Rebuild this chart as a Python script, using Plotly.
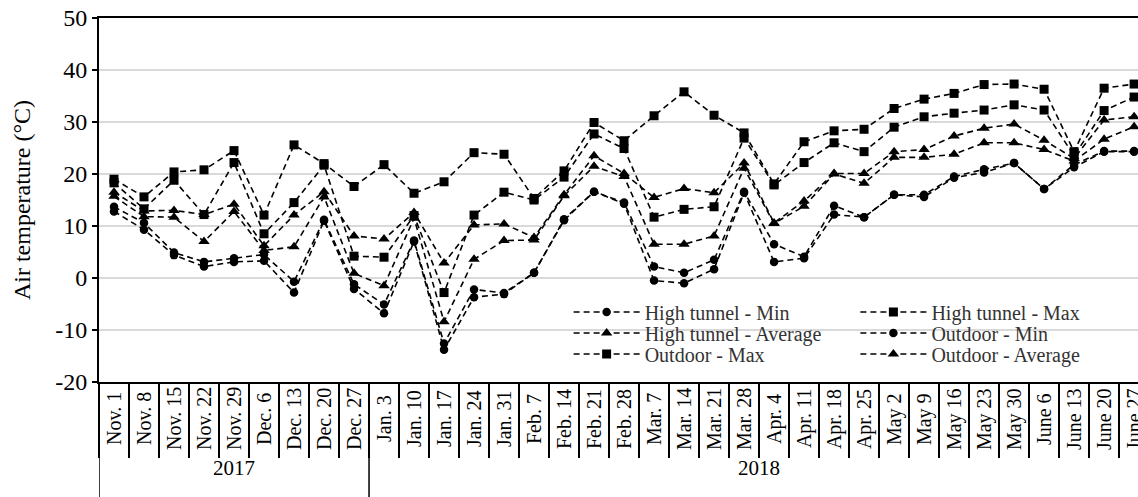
import plotly.graph_objects as go

categories = ["Nov. 1", "Nov. 8", "Nov. 15", "Nov. 22", "Nov. 29", "Dec. 6", "Dec. 13", "Dec. 20", "Dec. 27",
              "Jan. 3", "Jan. 10", "Jan. 17", "Jan. 24", "Jan. 31", "Feb. 7", "Feb. 14", "Feb. 21", "Feb. 28",
              "Mar. 7", "Mar. 14", "Mar. 21", "Mar. 28", "Apr. 4", "Apr. 11", "Apr. 18", "Apr. 25",
              "May 2", "May 9", "May 16", "May 23", "May 30", "June 6", "June 13", "June 20", "June 27"]
years = ["2017", "2018"]
year_counts = [9, 26]
y_ticks = [-20, -10, 0, 10, 20, 30, 40, 50]
y_ticktext = ["-20", "-10", "0", "10", "20", "30", "40", "50"]

ht_max = [19.0, 15.6, 20.4, 20.8, 24.5, 12.1, 25.6, 22.0, 17.6, 21.8, 16.3, 18.5, 24.1, 23.8, 15.3, 20.6, 29.9, 26.4,
          31.2, 35.8, 31.3, 27.9, 18.1, 26.2, 28.3, 28.6, 32.6, 34.4, 35.5, 37.2, 37.3, 36.3, 24.3, 36.5, 37.3]
out_max = [18.3, 13.3, 18.8, 12.2, 22.2, 8.5, 14.5, 21.7, 4.2, 4.0, 12.0, -2.8, 12.1, 16.5, 15.0, 19.4, 27.7, 24.9,
           11.7, 13.2, 13.7, 26.9, 17.9, 22.2, 26.0, 24.3, 29.0, 31.0, 31.7, 32.3, 33.3, 32.3, 23.5, 32.2, 34.8]
ht_avg = [16.5, 12.9, 13.0, 12.2, 14.2, 6.2, 12.1, 16.6, 8.1, 7.5, 12.6, 2.9, 10.2, 10.4, 7.8, 16.0, 23.5, 20.1,
          15.5, 17.2, 16.4, 22.1, 10.6, 14.8, 20.1, 20.1, 24.3, 24.7, 27.3, 28.8, 29.6, 26.5, 23.0, 30.4, 31.0]
out_avg = [15.7, 11.8, 11.7, 7.0, 12.8, 5.3, 6.0, 15.6, 0.9, -1.5, 11.5, -8.4, 3.6, 7.2, 7.3, 15.8, 21.5, 19.5,
           6.5, 6.5, 8.1, 21.1, 10.5, 13.8, 20.0, 18.2, 23.2, 23.2, 23.8, 26.0, 26.0, 24.7, 22.5, 26.7, 29.1]
ht_min = [13.7, 10.6, 4.9, 3.1, 3.8, 4.5, -0.7, 11.2, -1.2, -5.1, 7.2, -12.6, -2.2, -2.9, 1.0, 11.3, 16.6, 14.5,
          2.2, 1.0, 3.5, 16.6, 6.5, 4.1, 13.9, 11.7, 16.0, 16.0, 19.5, 20.9, 22.1, 17.1, 21.8, 24.4, 24.4]
out_min = [12.8, 9.3, 4.4, 2.2, 3.1, 3.3, -2.8, 11.0, -2.1, -6.8, 7.0, -13.8, -3.7, -3.1, 1.0, 11.1, 16.6, 14.3,
           -0.5, -1.0, 1.7, 16.4, 3.1, 3.8, 12.2, 11.7, 16.0, 15.6, 19.3, 20.3, 22.1, 17.1, 21.3, 24.3, 24.3]

FONT = "Liberation Serif"
DASH = "6px,4px"

series = [
    ("High tunnel - Min", ht_min, "circle", 8.5, "legend"),
    ("High tunnel - Max", ht_max, "square", 9, "legend2"),
    ("High tunnel - Average", ht_avg, "triangle-up", 10, "legend3"),
    ("Outdoor - Min", out_min, "circle", 8.5, "legend4"),
    ("Outdoor - Max", out_max, "square", 9, "legend5"),
    ("Outdoor - Average", out_avg, "triangle-up", 10, "legend6"),
]

fig = go.Figure()
for name, vals, sym, size, lg in series:
    fig.add_trace(go.Scatter(
        x=list(range(len(categories))), y=vals, name=name, mode="lines+markers",
        line=dict(color="black", width=1.6, dash=DASH),
        marker=dict(symbol=sym, size=size, color="black"),
        legend=lg, cliponaxis=True,
    ))

H_PLOT = 364.0
def py(p):
    return (382 - p) / H_PLOT

col_x = [0.452, 0.728]
row_y = [py(312), py(333), py(354)]
legend_layout = {}
names = ["legend", "legend2", "legend3", "legend4", "legend5", "legend6"]
for k, lg in enumerate(names):
    r, c = divmod(k, 2)
    legend_layout[lg] = dict(
        x=col_x[c], y=row_y[r], xanchor="left", yanchor="middle",
        bgcolor="rgba(0,0,0,0)", borderwidth=0, itemwidth=66,
        font=dict(family=FONT, size=20, color="#333333"),
        itemsizing="trace",
    )

annotations = []
for i, c in enumerate(categories):
    annotations.append(dict(
        x=i, y=py(419), xref="x", yref="paper", text=c, textangle=-90,
        showarrow=False, xanchor="center", yanchor="middle",
        font=dict(family=FONT, size=20, color="black"),
    ))

shapes = []
start = 0
for yr, n in zip(years, year_counts):
    annotations.append(dict(
        x=start + (n - 1) / 2, y=py(468), xref="x", yref="paper", text=yr,
        showarrow=False, xanchor="center", yanchor="middle",
        font=dict(family=FONT, size=21, color="black"),
    ))
    shapes.append(dict(type="line", xref="x", yref="paper", x0=start - 0.5, x1=start - 0.5,
                       y0=0, y1=py(497), line=dict(color="black", width=1.5)))
    start += n

fig.update_layout(
    width=1138, height=497,
    margin=dict(l=99, r=0, t=18, b=115),
    paper_bgcolor="white", plot_bgcolor="white",
    showlegend=True,
    annotations=annotations, shapes=shapes,
    font=dict(family=FONT, color="black"),
    xaxis=dict(
        type="linear", range=[-0.5, 34.13],
        tickmode="array", tickvals=[i - 0.5 for i in range(len(categories))],
        showticklabels=False, ticks="outside", ticklen=74, tickwidth=1.5, tickcolor="black",
        showgrid=False, zeroline=False, showline=True, linecolor="black", linewidth=2, mirror=True,
    ),
    yaxis=dict(
        range=[-20, 50], tickmode="array", tickvals=y_ticks, ticktext=y_ticktext,
        showgrid=True, gridcolor="#d9d9d9", gridwidth=1.5,
        zeroline=False, showline=True, linecolor="black", linewidth=2,
        ticks="outside", ticklen=5, tickwidth=1.5, tickcolor="black",
        tickfont=dict(family=FONT, size=24, color="black"),
        title=dict(text="Air temperature (°C)", font=dict(family=FONT, size=24, color="black"), standoff=18),
    ),
    **legend_layout,
)

fig.write_html("out.html")
